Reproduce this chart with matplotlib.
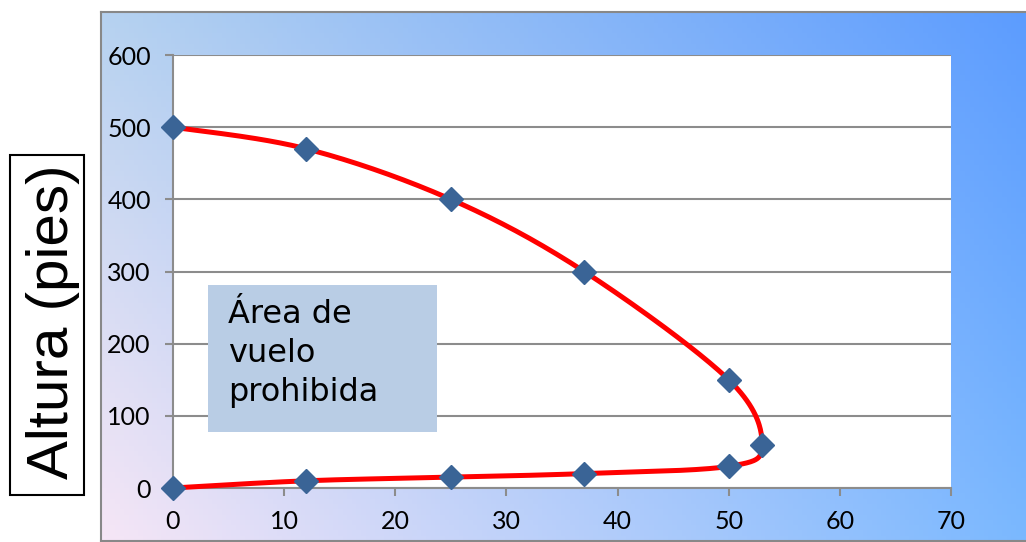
import numpy as np
import matplotlib
matplotlib.use("Agg")
import matplotlib.pyplot as plt
from matplotlib.patches import Rectangle

# data (distance vs height)
distancia = [0, 12, 25, 37, 50, 53, 50, 37, 25, 12, 0]
altura = [0, 10, 15, 20, 30, 60, 150, 300, 400, 470, 500]
x_ticks = [0, 10, 20, 30, 40, 50, 60, 70]
y_ticks = [0, 100, 200, 300, 400, 500, 600]

W, H = 1026, 542
fig = plt.figure(figsize=(W / 100, H / 100), dpi=100)

# gradient background box
bx0, by0, bx1, by1 = 101, 12, 1030, 541
bg = fig.add_axes([bx0 / W, 1 - by1 / H, (bx1 - bx0) / W, (by1 - by0) / H])
tl = np.array([182, 210, 240]) / 255
bl = np.array([246, 230, 246]) / 255
tr = np.array([92, 156, 255]) / 255
br = np.array([122, 184, 255]) / 255
u = np.linspace(0, 1, 200)[None, :, None]
v = np.linspace(0, 1, 100)[:, None, None]
top = tl * (1 - u) + tr * u
bot = bl * (1 - u) + br * u
img = top * (1 - v) + bot * v
bg.imshow(img, aspect="auto", extent=[0, 1, 0, 1])
bg.set_xticks([])
bg.set_yticks([])
for s in bg.spines.values():
    s.set_color("#888888")
    s.set_linewidth(1.5)

# plot area
ax_l, ax_r, ax_t, ax_b = 173, 951, 55, 488
ax = fig.add_axes([ax_l / W, 1 - ax_b / H, (ax_r - ax_l) / W, (ax_b - ax_t) / H])
ax.set_facecolor("white")
ax.set_xlim(0, 70)
ax.set_ylim(0, 600)
ax.set_xticks(x_ticks)
ax.set_yticks(y_ticks)
ax.grid(axis="y", color="#8c8c8c", linewidth=1.5)
ax.set_axisbelow(True)
for side in ["top", "right"]:
    ax.spines[side].set_visible(False)
for side in ["left", "bottom"]:
    ax.spines[side].set_color("#8c8c8c")
    ax.spines[side].set_linewidth(1.5)
ax.tick_params(direction="out", length=6, width=1.5, color="#8c8c8c",
               labelsize=18, pad=10)
for lab in ax.get_xticklabels() + ax.get_yticklabels():
    lab.set_fontfamily("Lato")

# smooth curve (Excel-like Catmull-Rom) in screen-proportional units
sx = (ax_r - ax_l) / 70
sy = (ax_b - ax_t) / 600
P = np.column_stack([np.array(distancia) * sx, np.array(altura) * sy])
curve = []
n = len(P)
for i in range(n - 1):
    p0 = P[i - 1] if i > 0 else P[i]
    p1 = P[i]
    p2 = P[i + 1]
    p3 = P[i + 2] if i + 2 < n else P[i + 1]
    c1 = p1 + (p2 - p0) / 6
    c2 = p2 - (p3 - p1) / 6
    t = np.linspace(0, 1, 40)[:, None]
    seg = (1 - t) ** 3 * p1 + 3 * (1 - t) ** 2 * t * c1 + 3 * (1 - t) * t ** 2 * c2 + t ** 3 * p2
    curve.append(seg)
curve = np.vstack(curve)
ax.plot(curve[:, 0] / sx, curve[:, 1] / sy, color="#ff0000", linewidth=3.6,
        solid_capstyle="round", zorder=3, clip_on=False)
ax.plot(distancia, altura, linestyle="none", marker="D", markersize=12,
        color="#3a6496", zorder=4, clip_on=False)

# forbidden area label box
fig.patches.append(Rectangle((208 / W, 1 - 432 / H), (437 - 208) / W, (432 - 285) / H,
                             transform=fig.transFigure, facecolor="#b9cde5",
                             edgecolor="none", zorder=5))
fig.text(228 / W, 1 - 299 / H, "Área de\nvuelo\nprohibida", fontsize=23,
         family="DejaVu Sans", va="top", ha="left", linespacing=1.33, zorder=6)

# y label box
fig.patches.append(Rectangle((10 / W, 1 - 495 / H), (84 - 10) / W, (495 - 155) / H,
                             transform=fig.transFigure, facecolor="white",
                             edgecolor="black", linewidth=1.5, zorder=5))
fig.text(53 / W, 1 - 322 / H, "Altura (pies)", rotation=90, fontsize=42,
         family="Liberation Sans", ha="center", va="center", zorder=6)

fig.savefig("out.png", dpi=100)
